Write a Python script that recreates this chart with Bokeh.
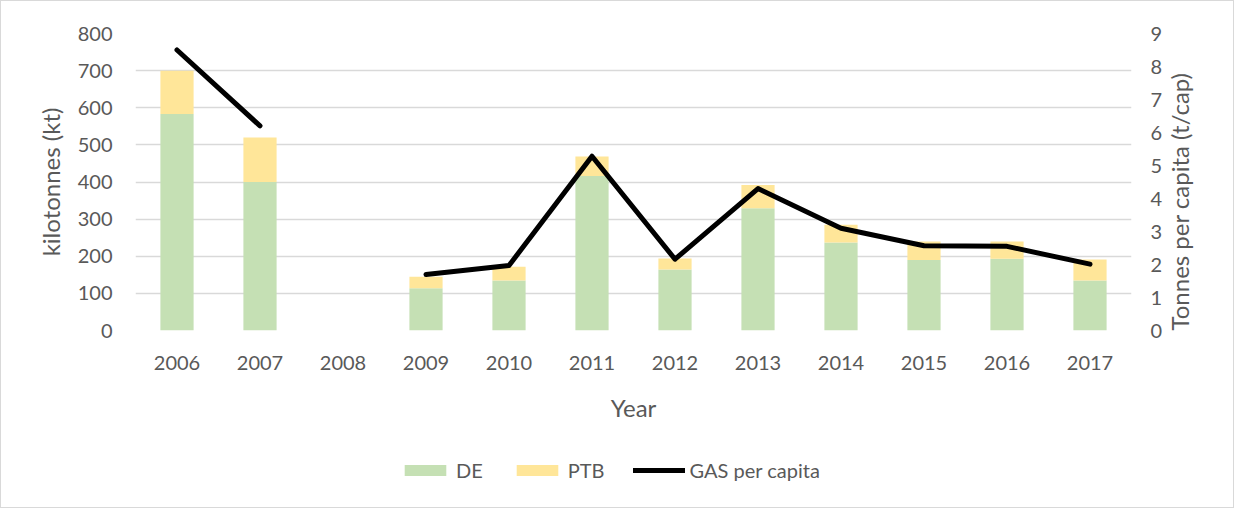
import math
from bokeh.plotting import figure
from bokeh.layouts import column
from bokeh.models import (ColumnDataSource, FactorRange, Range1d, LinearAxis,
                          Legend, LegendItem, FixedTicker)
from bokeh.embed import file_html
from bokeh.resources import INLINE

years = ["2006", "2007", "2008", "2009", "2010", "2011", "2012",
         "2013", "2014", "2015", "2016", "2017"]
de = [583, 400, 0, 114, 135, 416, 164, 329, 237, 190, 193, 135]
ptb = [117, 120, 0, 31, 37, 53, 30, 63, 48, 50, 47, 56]
gas_per_capita = [8.5, 6.2, float("nan"), 1.7, 1.97, 5.28, 2.16, 4.3, 3.1, 2.57, 2.55, 2.01]
series_names = ["DE", "PTB", "GAS per capita"]
bar_colors = ["#c5e0b4", "#ffe699"]

TEXT = "#595959"
FONT = "Lato"

src = ColumnDataSource(dict(year=years, DE=de, PTB=ptb, gas=gas_per_capita))
xr = FactorRange(*years, range_padding=0)

p = figure(x_range=xr, y_range=Range1d(0, 800),
           width=1232, height=430, frame_width=996, frame_height=297,
           output_backend="svg", toolbar_location=None,
           min_border_left=134, min_border_top=32, min_border_right=102,
           min_border_bottom=101)
p.outline_line_color = None
p.extra_y_ranges = {"cap": Range1d(0, 9)}

bars = p.vbar_stack(["DE", "PTB"], x="year", width=0.4, source=src,
                    color=bar_colors, line_color=None)
line = p.line(x="year", y="gas", source=src, y_range_name="cap",
              line_color="black", line_width=5, line_cap="round", line_join="round")

# axes
p.xaxis.axis_label = "Year"
p.yaxis.axis_label = "kilotonnes (kt)"
p.yaxis.ticker = FixedTicker(ticks=list(range(0, 801, 100)))
right = LinearAxis(y_range_name="cap", axis_label="Tonnes per capita (t/cap)",
                   ticker=FixedTicker(ticks=list(range(0, 10))))
p.add_layout(right, "right")

for ax in [p.xaxis[0], p.yaxis[0], right]:
    ax.axis_line_color = None
    ax.major_tick_line_color = None
    ax.minor_tick_line_color = None
    ax.major_label_text_font = FONT
    ax.major_label_text_font_size = "20px"
    ax.major_label_text_color = TEXT
    ax.axis_label_text_font = FONT
    ax.axis_label_text_font_size = "24px"
    ax.axis_label_text_font_style = "normal"
    ax.axis_label_text_color = TEXT

right.axis_label_orientation = math.pi / 2
if "axis_label_align" in right.properties():
    right.axis_label_align = "start"

p.xaxis.major_label_standoff = 19
p.xaxis.axis_label_standoff = 20
p.yaxis[0].major_label_standoff = 17
p.yaxis[0].axis_label_standoff = 10
right.major_label_standoff = 13
right.axis_label_standoff = 14

p.xgrid.grid_line_color = None
p.ygrid.grid_line_color = "#d9d9d9"
p.ygrid.grid_line_width = 1.5

# legend strip below the chart (legend-only renderers of the same series)
lf = figure(width=1232, height=76, x_range=xr, y_range=Range1d(-2, -1),
            output_backend="svg", toolbar_location=None,
            x_axis_location=None, y_axis_location=None,
            min_border=0)
lf.outline_line_color = None
lf.grid.grid_line_color = None
lbars = lf.vbar_stack(["DE", "PTB"], x="year", width=0.4, source=src,
                      color=bar_colors, line_color=None)
lline = lf.line(x="year", y="gas", source=src, line_color="black",
                line_width=5, line_cap="round", line_join="round")
for r in list(lbars) + [lline]:
    r.visible = False

legend = Legend(items=[LegendItem(label=series_names[0], renderers=[lbars[0]]),
                       LegendItem(label=series_names[1], renderers=[lbars[1]]),
                       LegendItem(label=series_names[2], renderers=[lline])],
                orientation="horizontal", location=(264, 25))
legend.border_line_color = None
legend.background_fill_alpha = 0
legend.inactive_fill_alpha = 0
legend.label_text_font = FONT
legend.label_text_font_size = "20px"
legend.label_text_color = TEXT
legend.glyph_width = 52
legend.glyph_height = 14
legend.label_standoff = 5
legend.spacing = 28
legend.padding = 0
legend.margin = 0
lf.add_layout(legend)

layout = column(p, lf, spacing=0, styles={"border": "1px solid #d9d9d9"})

open("out.html", "w").write(file_html(layout, INLINE))
